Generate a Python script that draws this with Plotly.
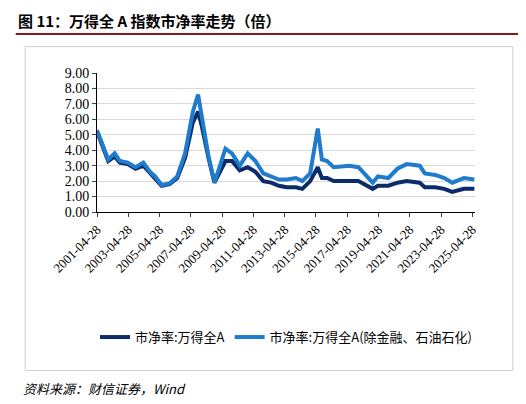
import plotly.graph_objects as go

dates = ["2001-04-28", "2001-10-01", "2002-01-15", "2002-06-15", "2002-10-15", "2003-04-15",
         "2003-10-15", "2004-04-15", "2004-09-15", "2005-01-15", "2005-06-15", "2005-12-15",
         "2006-06-15", "2006-12-15", "2007-06-15", "2007-10-15", "2008-01-15", "2008-06-15",
         "2008-11-01", "2009-07-15", "2009-12-15", "2010-06-15", "2010-12-15", "2011-06-15",
         "2011-12-15", "2012-06-15", "2012-12-15", "2013-06-15", "2014-01-15", "2014-06-15",
         "2014-12-15", "2015-06-10", "2015-09-15", "2016-01-15", "2016-06-15", "2017-06-15",
         "2018-01-15", "2018-12-15", "2019-04-15", "2019-12-15", "2020-07-15", "2021-02-15",
         "2021-12-15", "2022-04-15", "2022-12-15", "2023-07-15", "2024-01-15", "2024-10-15",
         "2025-06-15"]
pb_all = [5.2, 4.0, 3.3, 3.6, 3.2, 3.1, 2.8, 3.0, 2.5, 2.2, 1.7, 1.8, 2.2, 3.5, 5.8, 6.5, 5.5,
          3.5, 1.9, 3.3, 3.3, 2.7, 2.9, 2.6, 2.0, 1.9, 1.7, 1.6, 1.6, 1.5, 2.0, 2.9, 2.2, 2.2,
          2.0, 2.0, 2.0, 1.5, 1.7, 1.7, 1.9, 2.0, 1.9, 1.6, 1.6, 1.5, 1.3, 1.5, 1.5]
pb_exfin = [5.3, 4.1, 3.4, 3.8, 3.3, 3.2, 2.9, 3.2, 2.6, 2.3, 1.75, 1.85, 2.3, 3.8, 6.5, 7.6,
            6.2, 3.6, 1.9, 4.1, 3.8, 3.0, 3.8, 3.3, 2.5, 2.3, 2.1, 2.1, 2.2, 2.0, 2.5, 5.4, 3.4,
            3.3, 2.9, 3.0, 2.9, 1.9, 2.3, 2.2, 2.8, 3.1, 3.0, 2.5, 2.4, 2.2, 1.9, 2.2, 2.1]
tick_dates = ["%d-04-28" % y for y in range(2001, 2026, 2)]
font = "Times New Roman, Liberation Serif, Noto Sans CJK SC"

fig = go.Figure()
fig.add_trace(go.Scatter(x=dates, y=pb_all, mode="lines", name="市净率:万得全A",
                         line=dict(color="#0b2c6b", width=4)))
fig.add_trace(go.Scatter(x=dates, y=pb_exfin, mode="lines", name="市净率:万得全A(除金融、石油石化)",
                         line=dict(color="#1f7ccc", width=4)))

fig.update_layout(
    width=526, height=404, margin=dict(l=89, r=59, t=65, b=200),
    paper_bgcolor="white", plot_bgcolor="white",
    font=dict(family=font, size=14, color="black"),
    showlegend=True,
    legend=dict(orientation="h", x=0.5, xanchor="center", y=-0.9, yanchor="middle",
                font=dict(family="Noto Sans CJK SC", size=13)),
    xaxis=dict(range=["2001-04-28", "2025-06-30"], tickvals=tick_dates, ticktext=tick_dates,
               tickangle=-45, showgrid=False, showline=True, linecolor="black",
               ticks="outside", ticklen=4, tickfont=dict(size=13)),
    yaxis=dict(range=[0, 9], dtick=1, tickformat=".2f", showgrid=True, gridcolor="#d9d9d9",
               showline=True, linecolor="black", ticks="outside", ticklen=4, zeroline=False),
    shapes=[
        dict(type="line", xref="paper", yref="paper", x0=-0.215, x1=1.14, y0=1.28, y1=1.28,
             line=dict(color="#8b1a1a", width=2)),
        dict(type="rect", xref="paper", yref="paper", x0=-0.19, x1=1.10, y0=-1.14, y1=1.19,
             line=dict(color="#d0d0d0", width=1)),
    ],
    annotations=[
        dict(text="<b>图 11：万得全 A 指数市净率走势（倍）</b>", xref="paper", yref="paper",
             x=-0.214, y=1.38, xanchor="left", yanchor="middle", showarrow=False,
             font=dict(family="Noto Sans CJK SC", size=15)),
        dict(text="<i>资料来源：财信证券，Wind</i>", xref="paper", yref="paper",
             x=-0.2, y=-1.27, xanchor="left", yanchor="middle", showarrow=False,
             font=dict(family="Noto Sans CJK SC", size=13)),
    ],
)
fig.write_html("out.html")
